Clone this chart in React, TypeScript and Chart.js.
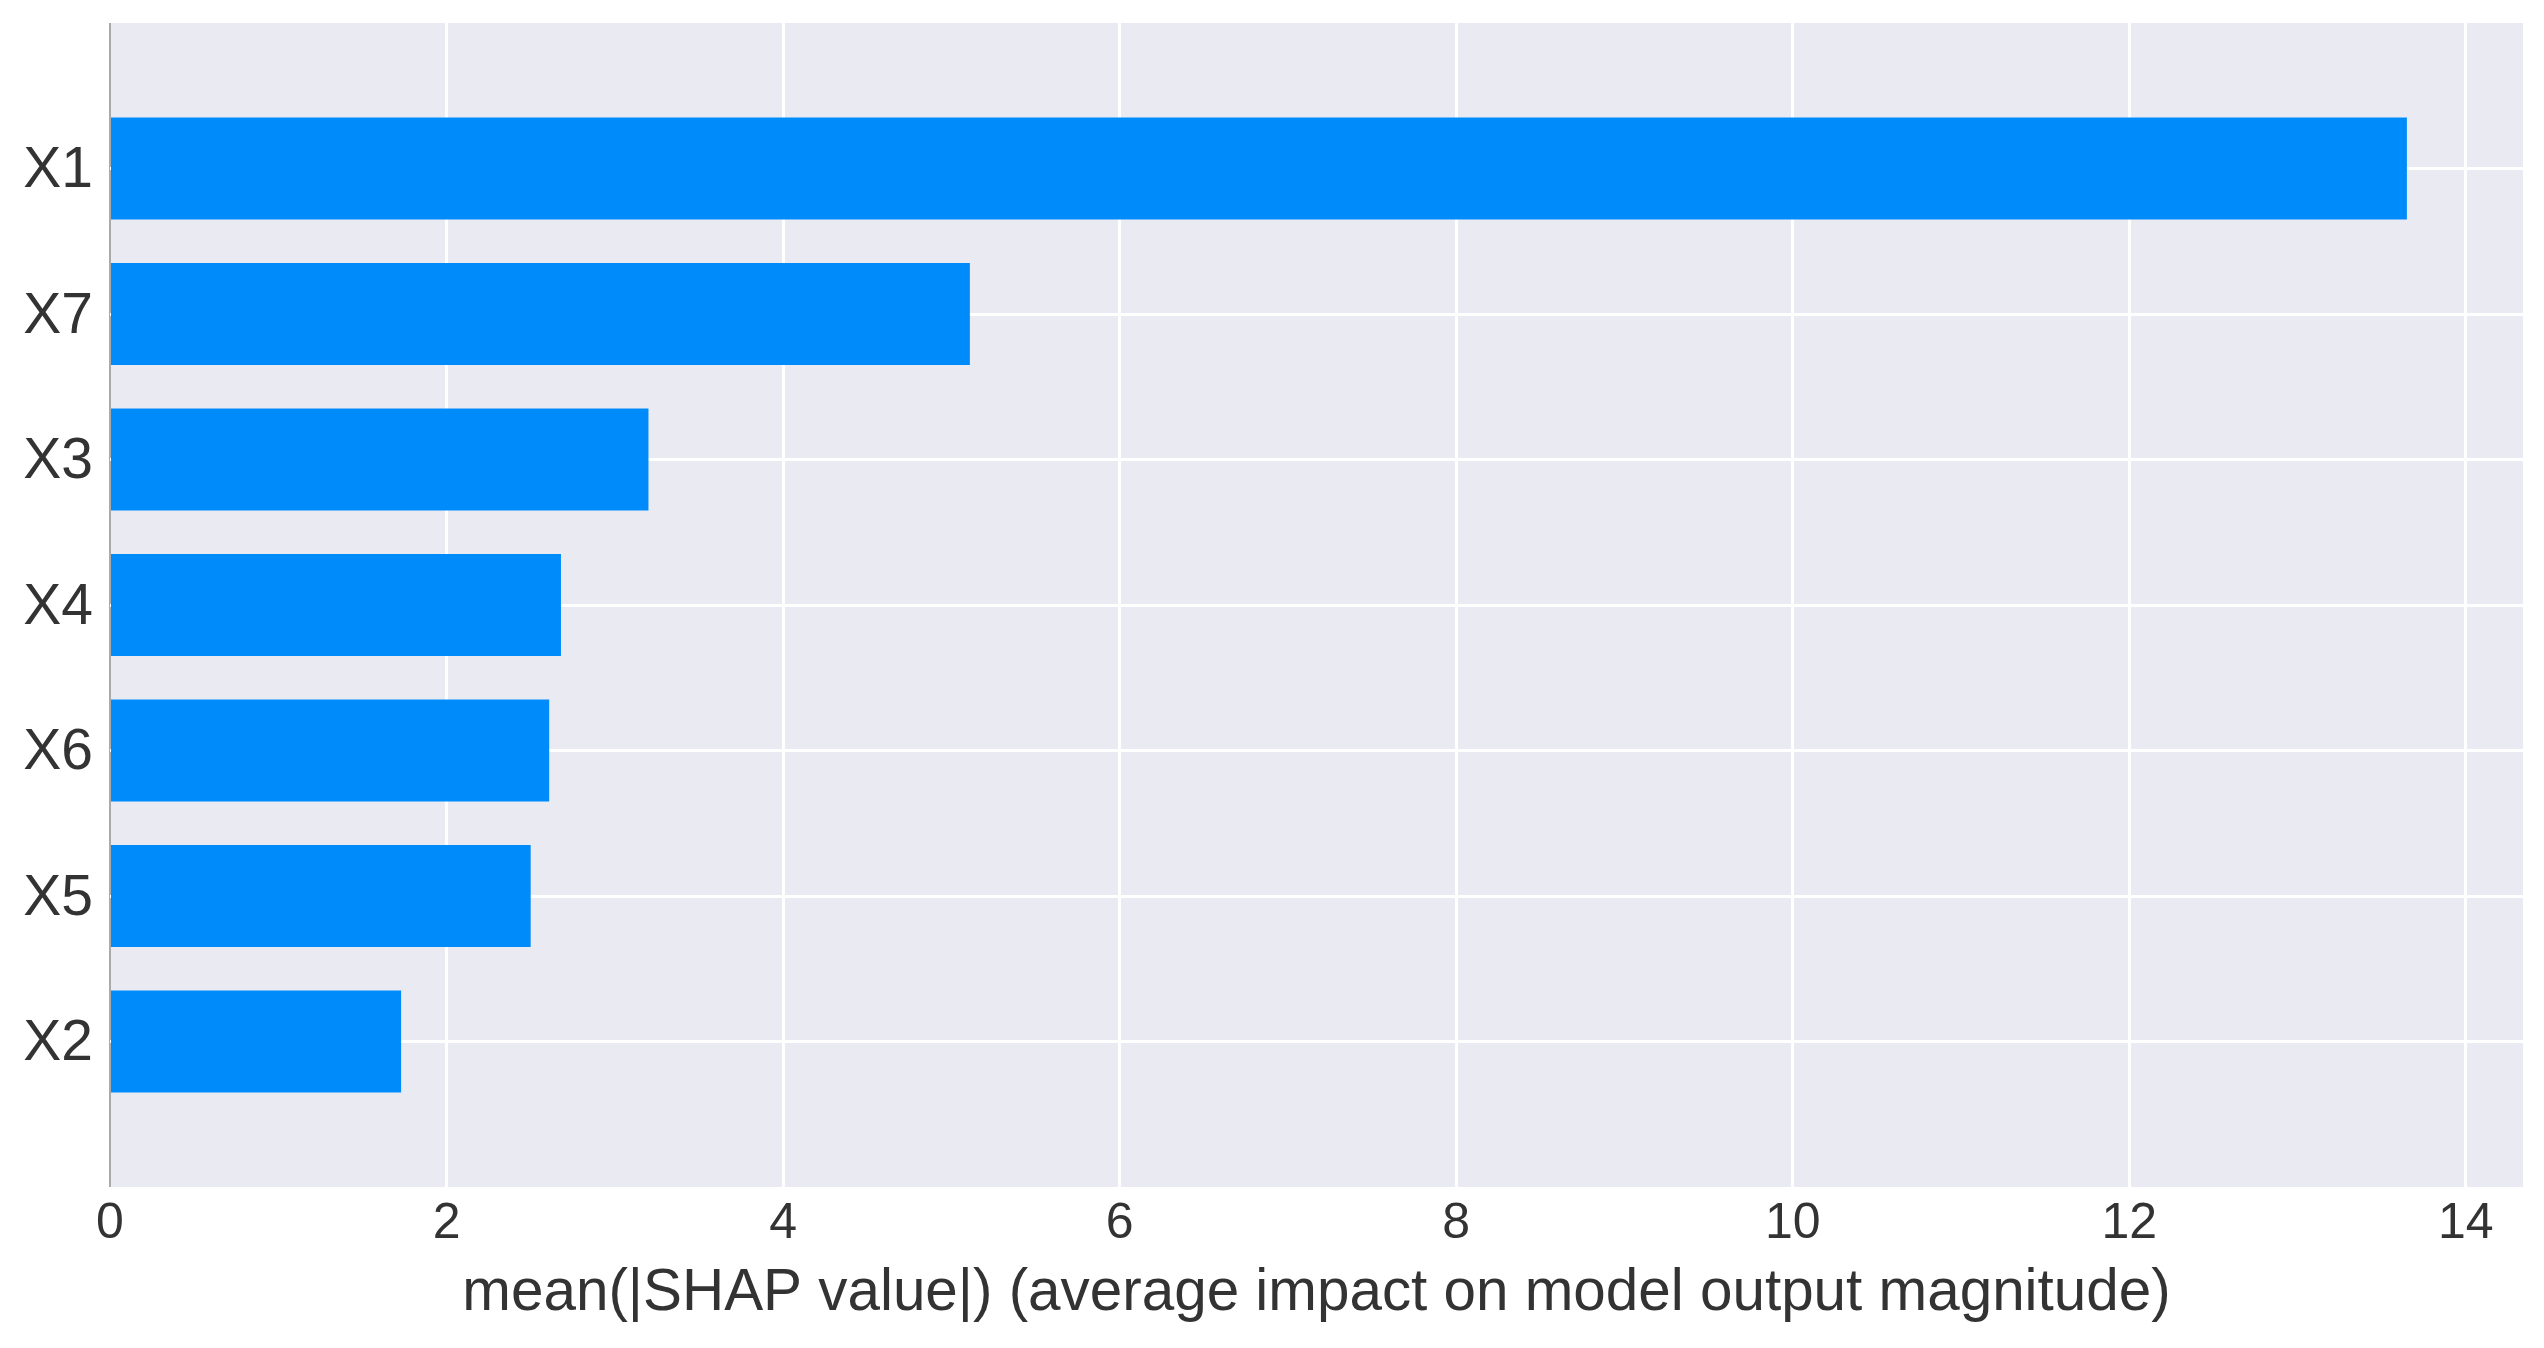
import React, { useEffect, useRef } from "react";
import { Chart, registerables } from "chart.js";

Chart.register(...registerables);

const features: string[] = ["X1", "X7", "X3", "X4", "X6", "X5", "X2"];
const meanAbsShap: number[] = [13.65, 5.11, 3.2, 2.68, 2.61, 2.5, 1.73];
const xTickValues: number[] = [0, 2, 4, 6, 8, 10, 12, 14];
const xAxisTitle = "mean(|SHAP value|) (average impact on model output magnitude)";

const FONT = "'Liberation Sans', Arial, Helvetica, sans-serif";
const TEXT = "#333333";

const plotBackground = {
  id: "plotBackground",
  beforeDraw(chart: any) {
    const { ctx, chartArea } = chart;
    ctx.save();
    ctx.fillStyle = "#EAEAF2";
    ctx.fillRect(chartArea.left, chartArea.top, chartArea.right - chartArea.left, chartArea.bottom - chartArea.top);
    ctx.restore();
  },
};

export default function App() {
  const ref = useRef<HTMLCanvasElement | null>(null);

  useEffect(() => {
    if (!ref.current) return;
    const chart = new Chart(ref.current, {
      type: "bar",
      data: {
        datasets: [
          {
            data: meanAbsShap.map((v, i) => ({ x: v, y: i })),
            backgroundColor: "#008BFB",
            borderWidth: 0,
            barPercentage: 0.7,
            categoryPercentage: 1,
          },
        ],
      },
      plugins: [plotBackground],
      options: {
        indexAxis: "y",
        animation: false,
        responsive: false,
        devicePixelRatio: 1,
        maintainAspectRatio: false,
        layout: { padding: { top: 23, right: 21, left: 0, bottom: 0 } },
        plugins: { legend: { display: false }, tooltip: { enabled: false } },
        scales: {
          x: {
            type: "linear",
            position: "bottom",
            min: 0,
            max: 14.34,
            offset: false,
            afterBuildTicks: (scale: any) => {
              scale.ticks = xTickValues.map((v) => ({ value: v }));
            },
            afterFit: (scale: any) => {
              scale.height = 161;
              scale.paddingLeft = 0;
              scale.paddingRight = 0;
            },
            border: { display: false },
            grid: {
              offset: false,
              drawTicks: false,
              color: (c: any) => (c.tick && c.tick.value === 0 ? "#AAAAAA" : "#FFFFFF"),
              lineWidth: (c: any) => (c.tick && c.tick.value === 0 ? 2 : 3),
            },
            ticks: {
              padding: 7,
              color: TEXT,
              font: { family: FONT, size: 50 },
              callback: (v: any) => String(v),
            },
            title: {
              display: true,
              text: xAxisTitle,
              color: TEXT,
              font: { family: FONT, size: 58.4 },
              padding: { top: 0, bottom: 19 },
            },
          },
          y: {
            type: "linear",
            min: -1,
            max: 7,
            reverse: true,
            offset: false,
            afterBuildTicks: (scale: any) => {
              scale.ticks = features.map((_, i) => ({ value: i }));
            },
            afterFit: (scale: any) => {
              scale.width = 110;
              scale.paddingTop = 0;
              scale.paddingBottom = 0;
            },
            border: { display: false },
            grid: { offset: false, drawTicks: false, color: "#FFFFFF", lineWidth: 3 },
            ticks: {
              padding: 17,
              labelOffset: 3,
              color: TEXT,
              font: { family: FONT, size: 57 },
              callback: (v: any) => features[v] ?? "",
            },
          },
        },
      },
    } as any);
    return () => chart.destroy();
  }, []);

  return (
    <div style={{ position: "fixed", left: 0, top: 0, width: 2544, height: 1348, background: "#FFFFFF" }}>
      <canvas ref={ref} width={2544} height={1348} style={{ display: "block", width: 2544, height: 1348 }} />
    </div>
  );
}
